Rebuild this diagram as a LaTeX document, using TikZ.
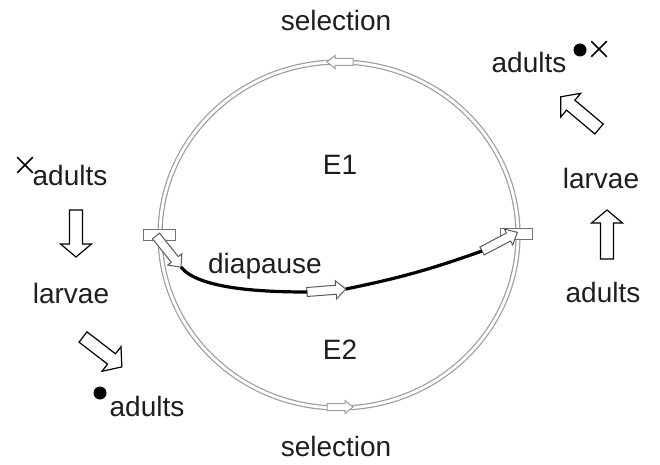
\documentclass[tikz,border=0pt]{standalone}
\usepackage{fontspec}
\setmainfont{Liberation Sans}
\usetikzlibrary{shapes.misc}

% dimensions of the hollow block arrows
\pgfkeys{/blk/shaft/.initial=6.5, /blk/head/.initial=15.5, /blk/hlen/.initial=13}

% \blkarrow{style}{name}{tail}{angle}{length}
\newcommand\blkarrow[5]{%
  \begin{scope}[shift={#3}, rotate=#4, #1]
    \edef\blkS{\pgfkeysvalueof{/blk/shaft}}%
    \edef\blkH{\pgfkeysvalueof{/blk/head}}%
    \edef\blkL{\pgfkeysvalueof{/blk/hlen}}%
    \path[draw, fill=white, line join=miter]
      (0,-\blkS) -- ({#5-\blkL},-\blkS) -- ({#5-\blkL},-\blkH) -- (#5,0)
      -- ({#5-\blkL},\blkH) -- ({#5-\blkL},\blkS) -- (0,\blkS) -- cycle;
    \coordinate (#2-tail) at (0,0);
    \coordinate (#2-tip) at (#5,0);
  \end{scope}}

\definecolor{ringgray}{HTML}{9C9C9C}
\definecolor{txt}{HTML}{1E1E1E}

\begin{document}
\begin{tikzpicture}[x=1pt,y=1pt,
  lbl/.style={font=\fontsize{28}{32}\selectfont, text=txt, inner sep=0pt},
  ring/.style={draw=ringgray, line width=1.2pt, double=white, double distance=2.8pt},
  sidearrow/.style={draw=black, line width=1.2pt, /blk/shaft=6.5, /blk/head=15.5, /blk/hlen=13},
  ringarrow/.style={draw=ringgray, line width=1pt, /blk/shaft=3.5, /blk/head=6.5, /blk/hlen=8},
  diaparrow/.style={draw=black!65, line width=1pt, /blk/shaft=4.5, /blk/head=9, /blk/hlen=10},
  junction/.style={draw=black!55, line width=0.9pt, fill=white, minimum width=32pt, minimum height=11pt, inner sep=0pt},
  diapline/.style={draw=black, line width=3.2pt},
  dot/.style={circle, fill=black, minimum size=13pt, inner sep=0pt},
  xmark/.style={cross out, draw=black, line width=1.5pt, minimum size=14pt, inner sep=0pt}]
  \useasboundingbox (0,0) rectangle (660,464);

  % the annual cycle
  \draw[ring] (339,229) ellipse [x radius=179, y radius=173];
  \blkarrow{ringarrow}{rtop}{(353,402)}{180}{26}
  \blkarrow{ringarrow}{rbot}{(327,57)}{0}{26}

  % junctions where diapause leaves and rejoins the cycle
  \node[junction] (jL) at (159,229) {};
  \node[junction] (jR) at (516,230) {};

  % diapause branch
  \blkarrow{diaparrow}{da1}{(156,228)}{-51.3}{40}
  \blkarrow{diaparrow}{da2}{(307,172)}{4.4}{39}
  \blkarrow{diaparrow}{da3}{(482,213)}{27.8}{40}
  \draw[diapline] (da1-tip) .. controls +(-51:28) and +(180:45) .. (da2-tail);
  \draw[diapline] (da2-tip) to[bend right=4] (da3-tail);

  % labels on the cycle
  \node[lbl] (selTop) at (336,444) {selection};
  \node[lbl] (selBot) at (336,18) {selection};
  \node[lbl] (e1) at (340,299) {E1};
  \node[lbl] (e2) at (340,114) {E2};
  \node[lbl, anchor=base] (diap) at (265,191) {diapause};

  % left column
  \node[xmark] (xL) at (25,299) {};
  \node[lbl] (adL1) at (70,289) {adults};
  \blkarrow{sidearrow}{aL1}{(76,254)}{-90}{47}
  \node[lbl] (larL) at (71,171) {larvae};
  \blkarrow{sidearrow}{aL2}{(83,127)}{-37.6}{49}
  \node[dot] (dotL) at (100,71) {};
  \node[lbl] (adL2) at (147,58) {adults};

  % right column
  \node[lbl] (adR2) at (603,172) {adults};
  \blkarrow{sidearrow}{aR1}{(607,205)}{90}{49}
  \node[lbl] (larR) at (601,286) {larvae};
  \blkarrow{sidearrow}{aR2}{(599,335)}{139.9}{50}
  \node[lbl] (adR1) at (529,402) {adults};
  \node[dot] (dotR) at (580,414) {};
  \node[xmark] (xR) at (599,415) {};
\end{tikzpicture}
\end{document}
